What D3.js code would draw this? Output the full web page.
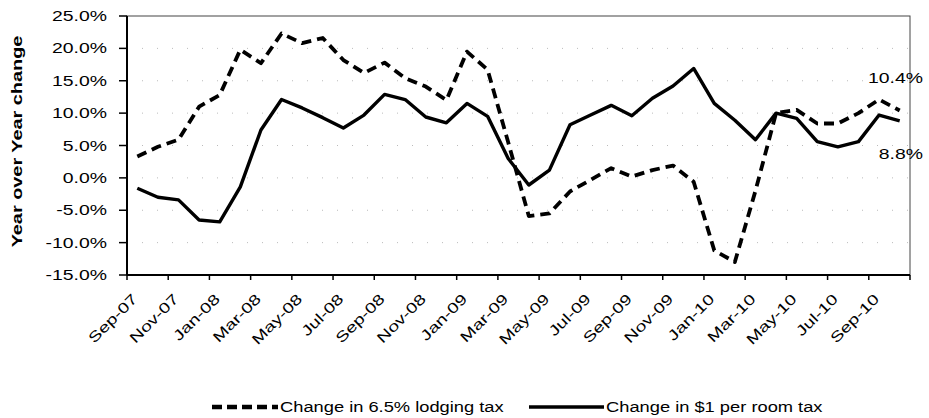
<meta charset="utf-8">
<script src="https://d3js.org/d3.v7.min.js"></script>

<style>
  body { margin: 0; background: #fff; }
  text { font-family: Arial, "Liberation Sans", sans-serif; fill: #000; }
  .grid line { stroke: #bbb; stroke-dasharray: 1,14; }
</style>

<body>
<div id="chart"></div>

<script>
  var months = ["Sep-07","Oct-07","Nov-07","Dec-07","Jan-08","Feb-08","Mar-08","Apr-08","May-08","Jun-08","Jul-08","Aug-08",
                "Sep-08","Oct-08","Nov-08","Dec-08","Jan-09","Feb-09","Mar-09","Apr-09","May-09","Jun-09","Jul-09","Aug-09",
                "Sep-09","Oct-09","Nov-09","Dec-09","Jan-10","Feb-10","Mar-10","Apr-10","May-10","Jun-10","Jul-10","Aug-10",
                "Sep-10","Oct-10"];

  // Change in 6.5% lodging tax (dashed)
  var lodging = [3.3, 4.8, 5.9, 11.0, 12.8, 19.8, 17.7, 22.3, 20.8, 21.6, 18.2, 16.2,
                 17.8, 15.4, 14.1, 12.0, 19.5, 16.7, 5.5, -5.9, -5.5, -2.1, -0.3, 1.5,
                 0.2, 1.2, 1.9, -0.6, -11.2, -13.0, -2.0, 10.0, 10.5, 8.4, 8.4, 10.0,
                 12.1, 10.4];

  // Change in $1 per room tax (solid)
  var room = [-1.6, -3.0, -3.4, -6.5, -6.8, -1.4, 7.4, 12.1, 10.8, 9.3, 7.7, 9.7,
              12.9, 12.1, 9.4, 8.5, 11.5, 9.5, 3.0, -1.1, 1.2, 8.2, 9.7, 11.2,
              9.6, 12.3, 14.2, 16.9, 11.5, 8.9, 5.9, 10.0, 9.2, 5.6, 4.8, 5.6,
              9.7, 8.8];

  var yTicks = [-15, -10, -5, 0, 5, 10, 15, 20, 25];

  var width = 929,
      height = 418;

  var plotLeft = 127, plotRight = 910, plotTop = 16, plotBottom = 275;
  var stretch = 1.385;

  var svg = d3.select("#chart")
      .append("svg")
      .attr("width", width)
      .attr("height", height);

  var x = d3.scaleBand().domain(months).range([plotLeft, plotRight]).padding(0);
  var y = d3.scaleLinear().domain([-15, 25]).range([plotBottom, plotTop]);
  var fmt = function(v) { return v.toFixed(1) + "%"; };

  // faint gridlines
  svg.append("g").attr("class", "grid")
    .selectAll("line").data(yTicks.slice(1, -1))
    .enter().append("line")
      .attr("x1", plotLeft).attr("x2", plotRight)
      .attr("y1", function(d) { return y(d); })
      .attr("y2", function(d) { return y(d); });

  // plot border
  svg.append("rect")
      .attr("x", plotLeft).attr("y", plotTop)
      .attr("width", plotRight - plotLeft).attr("height", plotBottom - plotTop)
      .attr("fill", "none").attr("stroke", "#444").attr("stroke-width", 1);

  // y axis
  var yAxis = svg.append("g");
  yAxis.append("line")
      .attr("x1", plotLeft).attr("x2", plotLeft).attr("y1", plotTop).attr("y2", plotBottom)
      .attr("stroke", "#000").attr("stroke-width", 2);
  yAxis.selectAll(".tick").data(yTicks)
    .enter().append("line")
      .attr("x1", plotLeft - 8).attr("x2", plotLeft)
      .attr("y1", function(d) { return y(d); })
      .attr("y2", function(d) { return y(d); })
      .attr("stroke", "#000").attr("stroke-width", 1.5);
  yAxis.selectAll("text").data(yTicks)
    .enter().append("text")
      .attr("transform", function(d) { return "translate(107," + (y(d) + 5) + ") scale(" + stretch + ",1)"; })
      .attr("text-anchor", "end")
      .style("font-size", "14px")
      .text(fmt);

  // x axis
  var xAxis = svg.append("g");
  xAxis.append("line")
      .attr("x1", plotLeft).attr("x2", plotRight).attr("y1", plotBottom).attr("y2", plotBottom)
      .attr("stroke", "#000").attr("stroke-width", 2);
  var tickPos = months.filter(function(m, i) { return i % 2 == 0; }).map(function(m) { return x(m); });
  tickPos.push(plotRight);
  xAxis.selectAll(".tick").data(tickPos)
    .enter().append("line")
      .attr("x1", function(d) { return d; }).attr("x2", function(d) { return d; })
      .attr("y1", plotBottom).attr("y2", plotBottom + 5)
      .attr("stroke", "#000").attr("stroke-width", 1.5);
  xAxis.selectAll("text").data(months.filter(function(m, i) { return i % 2 == 0; }))
    .enter().append("text")
      .attr("transform", function(d) {
        return "translate(" + (x(d) + x.bandwidth() / 2 + 1) + "," + (plotBottom + 25) + ") rotate(-45) scale(1.33,1)";
      })
      .attr("text-anchor", "end")
      .style("font-size", "14.5px")
      .text(function(d) { return d; });

  // axis title
  svg.append("text")
      .attr("transform", "translate(22," + ((plotTop + plotBottom) / 2 - 4) + ") rotate(-90) scale(1.42,1)")
      .attr("text-anchor", "middle")
      .style("font-size", "14px")
      .style("font-weight", "bold")
      .text("Year over Year change");

  var line = d3.line()
      .x(function(d, i) { return x(months[i]) + x.bandwidth() / 2; })
      .y(function(d) { return y(d); });

  svg.append("path")
      .datum(room)
      .attr("d", line)
      .attr("fill", "none")
      .attr("stroke", "#000")
      .attr("stroke-width", 3.4)
      .attr("stroke-linejoin", "round");

  svg.append("path")
      .datum(lodging)
      .attr("d", line)
      .attr("fill", "none")
      .attr("stroke", "#000")
      .attr("stroke-width", 3.8)
      .attr("stroke-dasharray", "10,6")
      .attr("stroke-linejoin", "round");

  // end labels
  var last = months.length - 1;
  svg.append("text")
      .attr("transform", "translate(923," + (y(lodging[last]) - 28) + ") scale(" + stretch + ",1)")
      .attr("text-anchor", "end")
      .style("font-size", "14px")
      .text(fmt(lodging[last]));
  svg.append("text")
      .attr("transform", "translate(923," + (y(room[last]) + 38) + ") scale(" + stretch + ",1)")
      .attr("text-anchor", "end")
      .style("font-size", "14px")
      .text(fmt(room[last]));

  // legend
  var legend = svg.append("g").attr("transform", "translate(0,407)");
  legend.append("line")
      .attr("x1", 212).attr("x2", 278).attr("y1", 0).attr("y2", 0)
      .attr("stroke", "#000").attr("stroke-width", 4.5)
      .attr("stroke-dasharray", "10,5");
  legend.append("text")
      .attr("transform", "translate(280,5) scale(1.22,1)")
      .style("font-size", "15px")
      .text("Change in 6.5% lodging tax");
  legend.append("line")
      .attr("x1", 529).attr("x2", 604).attr("y1", 0).attr("y2", 0)
      .attr("stroke", "#000").attr("stroke-width", 3.5);
  legend.append("text")
      .attr("transform", "translate(606,5) scale(1.22,1)")
      .style("font-size", "15px")
      .text("Change in $1 per room tax");
</script>
